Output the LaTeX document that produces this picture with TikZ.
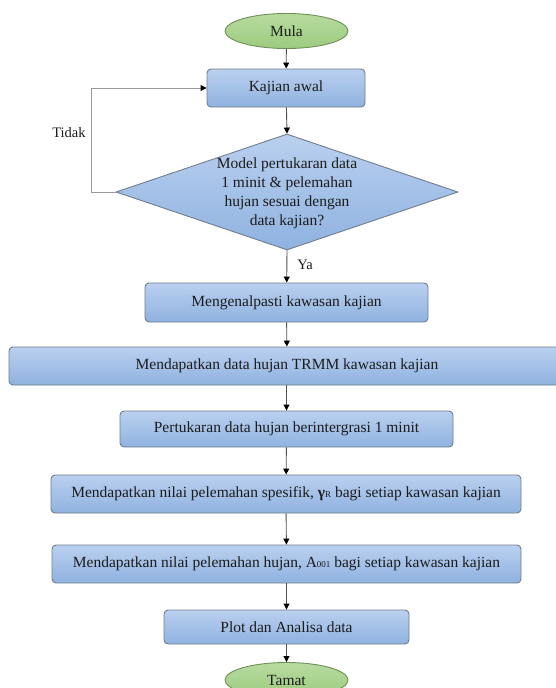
\documentclass[tikz,border=0pt]{standalone}
\usepackage{fontspec}
\setmainfont{Liberation Serif}
\usetikzlibrary{shapes.geometric,arrows.meta}
\definecolor{boxtop}{HTML}{BAD0EF}
\definecolor{boxbot}{HTML}{8FB2E0}
\definecolor{boxline}{HTML}{717D8C}
\definecolor{gtop}{HTML}{B8DBA0}
\definecolor{gbot}{HTML}{9CCB7E}
\definecolor{gline}{HTML}{6E8F55}
\definecolor{conn}{HTML}{505050}
\definecolor{txt}{HTML}{1C1C1C}
\begin{document}
\begin{tikzpicture}[x=1pt,y=-1pt,
  every node/.style={text=txt,font=\fontsize{15.5}{19}\selectfont},
  procbox/.style={rectangle,rounded corners=4pt,draw=boxline,line width=0.9pt,
    top color=boxtop,bottom color=boxbot,inner sep=0pt},
  termnode/.style={ellipse,draw=gline,line width=0.9pt,top color=gtop,bottom color=gbot,
    inner sep=0pt,minimum width=123pt,minimum height=35pt},
  decnode/.style={diamond,draw=boxline,line width=0.9pt,top color=boxtop,bottom color=boxbot,
    inner sep=0pt,minimum width=342pt,minimum height=116pt},
  flow/.style={draw=conn,line width=0.9pt,-{Triangle[length=6pt,width=6pt,color=black]}},
  looplink/.style={draw=gray!80,line width=0.9pt,-{Triangle[length=6pt,width=6pt,color=black]}},
  lbl/.style={font=\fontsize{14.5}{16}\selectfont}
]
\useasboundingbox (0,0) rectangle (556,688);
\begin{scope}
\clip (0,0) rectangle (556,688);
\node[termnode] (mula) at (286.5,31) {Mula};
\node[procbox,minimum width=158pt,minimum height=38pt] (kajian) at (286,88) {Kajian awal};
\node[decnode] (dia) at (287,192) {};
\node[align=center] (diatext) at (287,193.5)
  {Model pertukaran data\\1 minit \& pelemahan\\hujan sesuai dengan\\data kajian?};
\node[procbox,minimum width=283pt,minimum height=39pt] (meng) at (286.5,302.5) {Mengenalpasti kawasan kajian};
\node[procbox,minimum width=556pt,minimum height=38pt] (trmm) at (287,366) {Mendapatkan data hujan TRMM kawasan kajian};
\node[procbox,minimum width=333pt,minimum height=36pt] (pert) at (286.5,429) {Pertukaran data hujan berintergrasi  1 minit};
\node[procbox,minimum width=470pt,minimum height=38pt] (spes) at (286,494)
  {Mendapatkan nilai pelemahan spesifik, {\bfseries γ}{\fontsize{9}{10}\selectfont R} bagi setiap kawasan kajian};
\node[procbox,minimum width=469pt,minimum height=38pt] (aval) at (286.5,564)
  {Mendapatkan nilai pelemahan hujan, A{\fontsize{9}{10}\selectfont 001} bagi setiap kawasan kajian};
\node[procbox,minimum width=245pt,minimum height=34pt] (plot) at (286.5,627) {Plot dan Analisa data};
\node[termnode] (tamat) at (286.5,680) {Tamat};
\coordinate (loopc) at (91.5,192);
\node[lbl] (tidak) at (69,133) {Tidak};
\node[lbl] (ya) at (305,265) {Ya};
\draw[flow] (mula) -- (kajian);
\draw[flow] (kajian) -- (dia.north);
\draw[flow] (dia.south) -- (meng);
\draw[flow] (meng) -- (trmm);
\draw[flow] (trmm.south -| pert.north) -- (pert);
\draw[flow] (pert) -- (spes);
\draw[flow] (spes) -- (aval);
\draw[flow] (aval) -- (plot);
\draw[flow] (plot) -- (tamat);
\draw[looplink] (dia.west) -- (loopc) |- (kajian.west);
\end{scope}
\end{tikzpicture}
\end{document}
